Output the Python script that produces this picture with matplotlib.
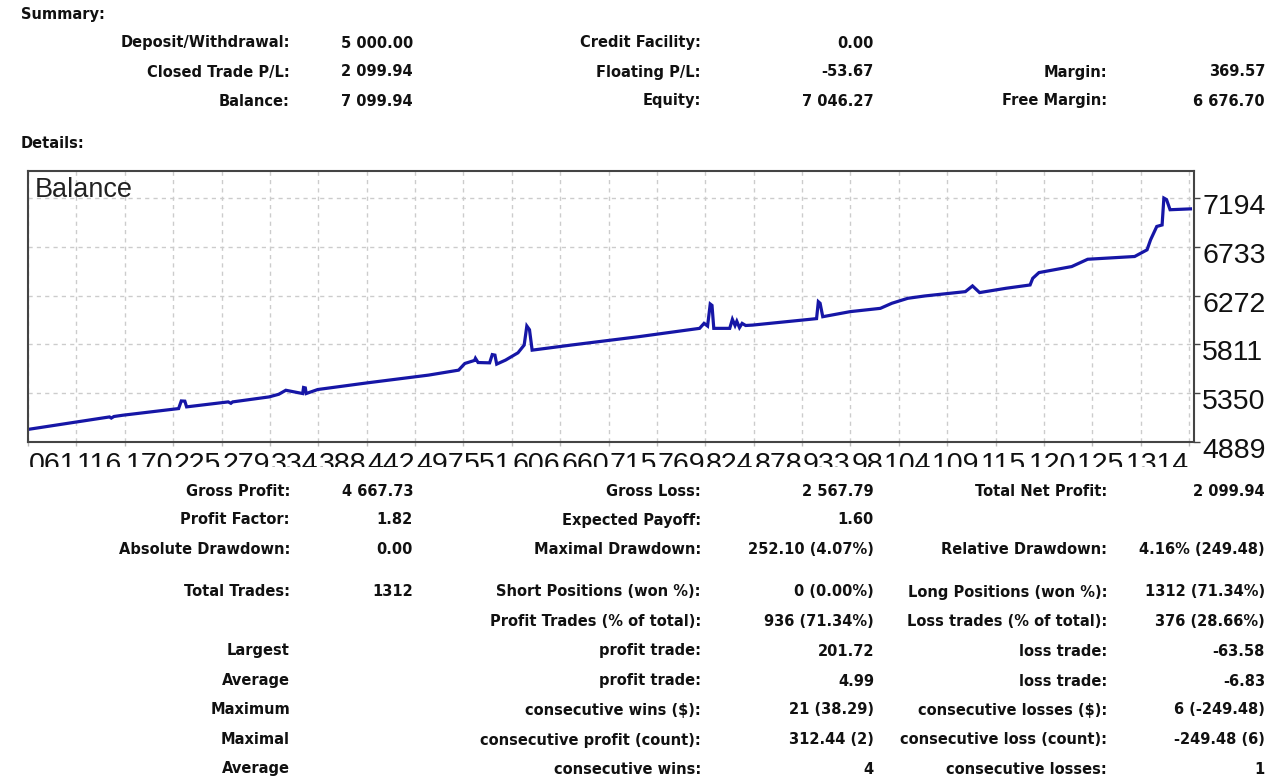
import numpy as np
import matplotlib
matplotlib.use("Agg")
import matplotlib.pyplot as plt
from matplotlib.transforms import ScaledTranslation
from matplotlib.patches import Rectangle

W, H = 1280, 777

# balance curve (trade number, balance)
trade_no = [0, 92, 94, 97, 107, 170, 173, 177, 179, 226, 229, 231, 272, 283, 291,
            302, 310, 311, 313, 314, 327, 383, 452, 486, 493, 504, 505, 508, 521,
            524, 527, 529, 539, 553, 560, 563, 566, 569, 613, 689, 758, 763, 767,
            770, 772, 774, 792, 795, 798, 800, 803, 806, 810, 818, 882, 890, 892,
            894, 897, 928, 962, 975, 993, 1012, 1058, 1066, 1074, 1104, 1131, 1134,
            1141, 1178, 1196, 1249, 1263, 1267, 1274, 1280, 1282, 1285, 1289, 1312]
balance = [5008, 5126, 5115, 5130, 5142, 5205, 5277, 5275, 5221, 5268, 5255, 5268,
           5315, 5340, 5378, 5360, 5347, 5404, 5400, 5347, 5385, 5448, 5521, 5568,
           5631, 5660, 5680, 5640, 5637, 5715, 5710, 5625, 5663, 5732, 5805, 5985,
           5950, 5757, 5805, 5884, 5963, 6010, 5985, 6193, 6180, 5963, 5963, 6048,
           5990, 6030, 5970, 6010, 5990, 5994, 6048, 6055, 6215, 6200, 6073, 6121,
           6152, 6200, 6247, 6269, 6310, 6364, 6301, 6342, 6373, 6436, 6490, 6547,
           6616, 6642, 6705, 6800, 6926, 6940, 7194, 7180, 7084, 7092]

# x labels end at their gridline; a longer next label hides the last digit
x_tick_labels = ["061", "116", "170", "225", "279", "334", "388", "442", "497",
                 "551", "606", "660", "715", "769", "824", "878", "933", "987",
                 "1042", "1096", "1151", "1205", "1259", "1314"]
x_step = 54.6
y_ticks = [4889, 5350, 5811, 6272, 6733, 7194]

summary_rows = [
    ["Deposit/Withdrawal:", "5 000.00", "Credit Facility:", "0.00", "", ""],
    ["Closed Trade P/L:", "2 099.94", "Floating P/L:", "-53.67", "Margin:", "369.57"],
    ["Balance:", "7 099.94", "Equity:", "7 046.27", "Free Margin:", "6 676.70"],
]
details_rows = [
    ["Gross Profit:", "4 667.73", "Gross Loss:", "2 567.79", "Total Net Profit:", "2 099.94"],
    ["Profit Factor:", "1.82", "Expected Payoff:", "1.60", "", ""],
    ["Absolute Drawdown:", "0.00", "Maximal Drawdown:", "252.10 (4.07%)",
     "Relative Drawdown:", "4.16% (249.48)"],
    ["Total Trades:", "1312", "Short Positions (won %):", "0 (0.00%)",
     "Long Positions (won %):", "1312 (71.34%)"],
    ["", "", "Profit Trades (% of total):", "936 (71.34%)",
     "Loss trades (% of total):", "376 (28.66%)"],
    ["Largest", "", "profit trade:", "201.72", "loss trade:", "-63.58"],
    ["Average", "", "profit trade:", "4.99", "loss trade:", "-6.83"],
    ["Maximum", "", "consecutive wins ($):", "21 (38.29)",
     "consecutive losses ($):", "6 (-249.48)"],
    ["Maximal", "", "consecutive profit (count):", "312.44 (2)",
     "consecutive loss (count):", "-249.48 (6)"],
    ["Average", "", "consecutive wins:", "4", "consecutive losses:", "1"],
]

col_right = [290, 413, 701, 874, 1107, 1265]
summary_y = [43, 72, 101]
details_y = [491, 520, 549, 592, 621, 651, 681, 710, 740, 769]

fig = plt.figure(figsize=(W / 100, H / 100), dpi=100)
txt = dict(fontsize=10.5, fontweight="bold", color="#111111",
           family="DejaVu Sans", va="center")


def put(x, y, s, ha="right"):
    fig.text(x / W, 1 - y / H, s, ha=ha, **txt)


put(21, 14, "Summary:", ha="left")
put(21, 144, "Details:", ha="left")
for row, y in zip(summary_rows, summary_y):
    for s, x in zip(row, col_right):
        if s:
            put(x, y, s)
for row, y in zip(details_rows, details_y):
    for s, x in zip(row, col_right):
        if s:
            put(x, y, s)

# chart box
left, right, top, bottom = 28, 1194, 171, 442
ax = fig.add_axes([left / W, (H - bottom) / H, (right - left) / W, (bottom - top) / H])
ax.plot(trade_no, balance, color="#1616a6", lw=2.3, solid_joinstyle="miter")
ax.set_xlim(0, 1316)
ax.set_ylim(4889, 7450)

xt = np.arange(len(x_tick_labels) + 1) * x_step
ax.set_xticks(xt, labels=[])
ax.set_yticks(y_ticks, labels=[])
ax.yaxis.tick_right()
ax.tick_params(axis="y", length=4, width=1, color="#444444")
ax.tick_params(axis="x", length=3, width=1, color="#bbbbbb")
ax.grid(True, color="#cccccc", linestyle=(0, (3, 3)), linewidth=1)
for sp in ax.spines.values():
    sp.set_color("#444444")
    sp.set_linewidth(1.5)

ax.text(0.006, 0.93, "Balance", transform=ax.transAxes, fontsize=19.5,
        family="Liberation Sans", color="#222222", va="center", ha="left")

lab_size = 20.5
lab = dict(fontsize=lab_size, family="Liberation Sans", color="#111111", clip_on=False)
ydown = ScaledTranslation(0, -0.09, fig.dpi_scale_trans)
for v in y_ticks:
    ax.text(1.007, v, str(v), transform=ax.get_yaxis_transform() + ydown,
            va="center", ha="left", **lab)

# digits in Liberation Sans are 0.556 em wide
digit_pt = 0.556 * lab_size
step_pt = (right - left) * x_step / 1316 * 72 / 100
for i, (pos, s) in enumerate(zip(xt[1:], x_tick_labels)):
    n = len(s)
    nxt = x_tick_labels[i + 1] if i + 1 < len(x_tick_labels) else ""
    start_next = step_pt - len(nxt) * digit_pt  # relative to this label's end
    shown = s
    while shown and -(n - len(shown)) * digit_pt > start_next + 1:
        shown = shown[:-1]
    off = ScaledTranslation(-n * digit_pt / 72, -0.095, fig.dpi_scale_trans)
    ax.text(pos, 0, shown, transform=ax.get_xaxis_transform() + off, va="top",
            ha="left", **lab)

# labels are cut off at the bottom, like in the terminal window
fig.add_artist(Rectangle((0, (H - 481) / H), (right + 1) / W, 14 / H,
                         transform=fig.transFigure, facecolor="white",
                         edgecolor="none", zorder=10))

fig.savefig("out.png", dpi=100)
